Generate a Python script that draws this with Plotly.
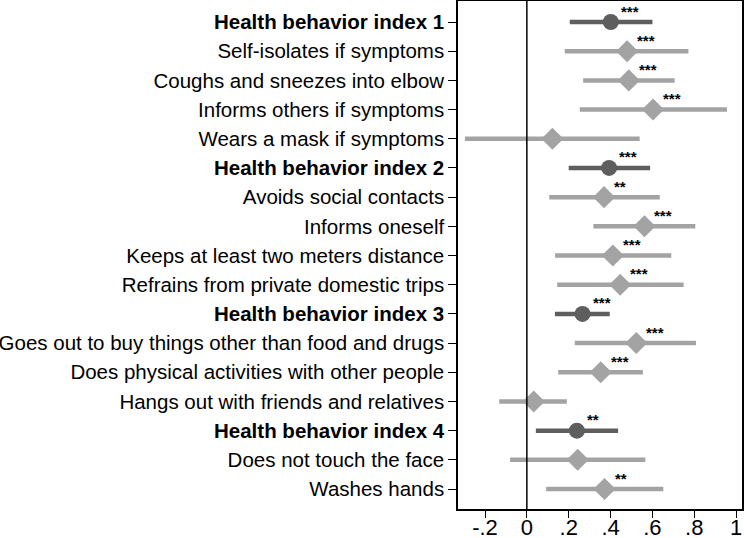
import plotly.graph_objects as go

labels = [
    "Health behavior index 1",
    "Self-isolates if symptoms",
    "Coughs and sneezes into elbow",
    "Informs others if symptoms",
    "Wears a mask if symptoms",
    "Health behavior index 2",
    "Avoids social contacts",
    "Informs oneself",
    "Keeps at least two meters distance",
    "Refrains from private domestic trips",
    "Health behavior index 3",
    "Goes out to buy things other than food and drugs",
    "Does physical activities with other people",
    "Hangs out with friends and relatives",
    "Health behavior index 4",
    "Does not touch the face",
    "Washes hands",
]
is_index = [True, False, False, False, False, True, False, False, False, False,
            True, False, False, False, True, False, False]
estimate = [0.401, 0.479, 0.487, 0.603, 0.122, 0.393, 0.369, 0.562, 0.411, 0.446,
            0.266, 0.523, 0.353, 0.033, 0.239, 0.243, 0.371]
ci_low = [0.205, 0.181, 0.269, 0.253, -0.296, 0.200, 0.107, 0.318, 0.135, 0.145,
          0.134, 0.229, 0.150, -0.132, 0.043, -0.080, 0.092]
ci_high = [0.600, 0.772, 0.706, 0.956, 0.539, 0.589, 0.635, 0.805, 0.690, 0.749,
           0.396, 0.808, 0.554, 0.191, 0.436, 0.566, 0.652]
stars = ["***", "***", "***", "***", "", "***", "**", "***", "***", "***",
         "***", "***", "***", "", "**", "", "**"]
x_ticks = [-0.2, 0, 0.2, 0.4, 0.6, 0.8, 1]
x_ticktext = ["-.2", "0", ".2", ".4", ".6", ".8", "1"]

DARK = "#5e5e5e"
LIGHT = "#a3a3a3"
FONT = "Liberation Sans, Arial, sans-serif"

cats = [f"<b>{l}</b>" if b else l for l, b in zip(labels, is_index)]

fig = go.Figure()

def segs(sel):
    xs, ys = [], []
    for c, lo, hi, s in zip(cats, ci_low, ci_high, is_index):
        if s == sel:
            xs += [lo, hi, None]
            ys += [c, c, None]
    return xs, ys

for sel, col in [(False, LIGHT), (True, DARK)]:
    xs, ys = segs(sel)
    fig.add_trace(go.Scatter(x=xs, y=ys, mode="lines",
                             line=dict(color=col, width=4.5),
                             hoverinfo="skip", showlegend=False))

item_x = [e for e, s in zip(estimate, is_index) if not s]
item_y = [c for c, s in zip(cats, is_index) if not s]
idx_x = [e for e, s in zip(estimate, is_index) if s]
idx_y = [c for c, s in zip(cats, is_index) if s]

fig.add_trace(go.Scatter(x=item_x, y=item_y, mode="markers",
                         marker=dict(symbol="diamond", size=17, color=LIGHT,
                                     line=dict(width=0)),
                         showlegend=False))
fig.add_trace(go.Scatter(x=idx_x, y=idx_y, mode="markers",
                         marker=dict(symbol="circle", size=16, color=DARK,
                                     line=dict(width=0)),
                         showlegend=False))

for c, e, st in zip(cats, estimate, stars):
    if st:
        fig.add_annotation(x=e, y=c, text=f"<b>{st}</b>", showarrow=False,
                           xanchor="left", yanchor="middle",
                           xshift=8, yshift=11,
                           font=dict(family=FONT, size=15, color="black"))

fig.add_shape(type="line", x0=0, x1=0, xref="x", y0=0, y1=1, yref="paper",
              line=dict(color="black", width=1.5))

fig.update_layout(
    width=744, height=538,
    margin=dict(l=458, r=2, t=1, b=29, autoexpand=False),
    paper_bgcolor="white", plot_bgcolor="white",
    font=dict(family=FONT, color="black"),
    xaxis=dict(range=[-0.329, 1.028], tickvals=x_ticks, ticktext=x_ticktext,
               ticks="outside", ticklen=7, tickwidth=1.3, tickcolor="black",
               ticklabelstandoff=-9,
               showgrid=False, zeroline=False, automargin=False,
               showline=True, linecolor="black", linewidth=1.5, mirror=True,
               tickfont=dict(size=22, family=FONT, color="black")),
    yaxis=dict(type="category", categoryorder="array", categoryarray=cats,
               range=[16.685, -0.7195], automargin=False,
               ticks="outside", ticklen=8, tickwidth=1.3, tickcolor="black",
               showgrid=False, zeroline=False,
               showline=True, linecolor="black", linewidth=1.5, mirror=True,
               tickfont=dict(size=20.5, family=FONT, color="black")),
)

fig.write_html("out.html", config={"displayModeBar": False},
               post_script="document.body.style.margin='0';document.body.style.overflow='hidden';")
